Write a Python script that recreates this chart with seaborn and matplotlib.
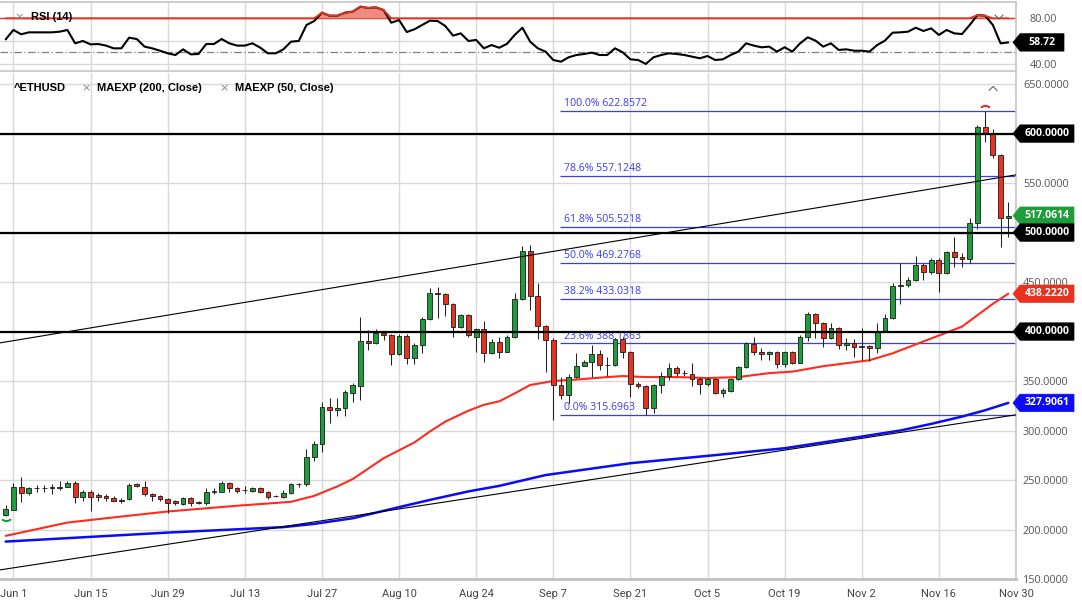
import numpy as np
import pandas as pd
import matplotlib
matplotlib.use("Agg")
import matplotlib.pyplot as plt
import seaborn as sns
from matplotlib import font_manager
from matplotlib.patches import Polygon
from matplotlib.lines import Line2D
from matplotlib.transforms import IdentityTransform

# ---- data (^ETHUSD daily, weekdays only) ----
dates = pd.bdate_range("2020-05-29", "2020-11-27")

opens = [214.8, 219.9, 242.8, 236.7, 241.5, 241.8, 243.4, 241.8, 243.4, 247.4,
         232.7, 238.0, 234.9, 233.9, 231.7, 230.0, 230.7, 246.2, 243.4, 236.0,
         234.0, 230.7, 228.3, 226.0, 231.7, 227.0, 227.2, 238.2, 238.2, 246.9,
         241.8, 240.1, 239.4, 241.5, 238.2, 233.9, 232.7, 236.7, 246.2, 246.2,
         273.6, 286.5, 324.2, 320.9, 322.5, 338.4, 345.4, 390.9, 388.2, 398.9,
         396.6, 377.4, 395.0, 373.1, 386.5, 412.5, 439.4, 438.0, 427.7, 404.4,
         416.8, 394.9, 402.4, 378.1, 389.4, 379.8, 394.3, 432.7, 481.7, 436.0,
         405.7, 391.6, 346.1, 336.0, 353.9, 365.6, 369.0, 377.1, 366.3, 366.3,
         392.3, 379.8, 347.2, 345.1, 322.5, 346.1, 355.4, 363.0, 358.5, 357.2,
         351.9, 347.2, 351.9, 338.4, 340.4, 351.9, 364.0, 387.5, 379.8, 377.1,
         379.8, 367.4, 379.8, 368.7, 394.9, 417.8, 409.0, 393.3, 403.4, 386.5,
         388.8, 384.8, 385.5, 383.1, 401.0, 413.5, 446.1, 447.1, 452.2, 467.4,
         460.6, 472.3, 459.0, 480.8, 475.1, 473.1, 509.4, 607.0, 600.4, 578.5,
         515.0]
highs = [224.9, 246.9, 253.5, 242.6, 245.1, 245.1, 246.2, 249.4, 248.8, 249.4,
         240.1, 240.2, 236.7, 235.7, 234.0, 232.0, 246.9, 247.4, 249.4, 236.7,
         235.0, 231.7, 230.0, 233.3, 232.7, 228.3, 241.8, 241.8, 249.1, 248.4,
         243.2, 243.7, 243.0, 242.7, 239.2, 235.3, 240.3, 247.0, 247.0, 281.2,
         289.8, 329.3, 332.7, 332.7, 341.1, 347.8, 415.1, 401.7, 402.4, 400.9,
         397.6, 397.6, 397.6, 388.0, 414.5, 443.8, 445.4, 439.1, 429.3, 417.8,
         417.8, 403.4, 411.1, 392.0, 394.9, 397.0, 439.4, 486.5, 487.5, 449.5,
         406.4, 393.0, 354.5, 357.3, 378.1, 371.6, 386.5, 381.1, 374.0, 393.0,
         394.9, 380.6, 349.3, 346.1, 347.1, 359.5, 368.1, 364.7, 361.2, 368.7,
         353.9, 354.5, 352.8, 342.9, 352.9, 364.7, 389.0, 394.9, 383.2, 380.6,
         380.6, 380.6, 380.6, 396.9, 420.2, 418.8, 409.8, 409.0, 404.4, 393.3,
         392.0, 403.4, 386.5, 408.4, 417.8, 448.8, 469.0, 454.9, 476.4, 468.9,
         474.3, 474.8, 481.8, 495.3, 479.0, 514.5, 608.2, 622.86, 604.5, 579.5,
         530.5]
lows = [213.4, 219.4, 228.2, 234.6, 238.2, 238.2, 236.0, 240.1, 242.5, 227.2,
        228.3, 219.2, 229.3, 228.3, 228.3, 227.2, 229.8, 242.8, 234.0, 228.3,
        229.0, 217.1, 225.0, 225.0, 224.0, 226.0, 225.0, 236.0, 237.5, 238.2,
        237.2, 236.7, 238.0, 237.2, 231.0, 232.6, 232.3, 236.0, 242.8, 244.2,
        269.4, 278.8, 307.5, 314.8, 314.8, 329.3, 331.0, 381.5, 387.5, 391.6,
        366.3, 376.5, 367.4, 367.4, 378.1, 411.8, 413.5, 415.8, 394.9, 403.4,
        394.9, 379.8, 369.7, 377.4, 373.1, 379.1, 393.6, 432.0, 421.8, 392.3,
        359.5, 311.1, 331.7, 327.6, 353.0, 364.7, 354.5, 361.2, 355.4, 365.3,
        373.1, 334.3, 342.9, 315.7, 318.1, 338.4, 351.3, 354.8, 354.8, 345.1,
        337.0, 344.6, 337.0, 333.6, 339.4, 350.6, 363.0, 376.4, 371.6, 371.3,
        363.0, 363.9, 367.2, 367.8, 390.9, 393.3, 384.2, 392.0, 382.2, 381.5,
        374.7, 371.3, 370.7, 378.1, 399.4, 412.5, 428.0, 444.5, 451.5, 452.2,
        458.4, 440.4, 458.0, 465.0, 465.4, 469.6, 503.4, 591.9, 575.1, 485.2,
        496.0]
closes = [220.9, 242.8, 236.7, 241.8, 241.8, 241.6, 241.8, 243.4, 247.4, 232.7,
          238.0, 232.7, 232.7, 231.7, 229.3, 229.0, 245.1, 244.1, 236.0, 234.0,
          230.7, 227.2, 226.6, 231.7, 226.6, 227.3, 238.2, 238.4, 246.9, 241.8,
          239.4, 240.2, 241.8, 238.2, 233.3, 234.0, 237.3, 246.2, 246.4, 273.6,
          286.5, 324.2, 320.9, 322.5, 339.4, 346.3, 390.9, 388.2, 398.9, 396.6,
          377.4, 395.0, 373.1, 386.5, 412.5, 439.4, 438.0, 427.7, 404.4, 416.8,
          396.6, 402.4, 378.1, 389.4, 379.8, 394.3, 432.7, 481.7, 436.0, 405.7,
          391.6, 346.1, 336.0, 353.9, 365.6, 369.0, 377.1, 366.3, 366.5, 392.3,
          379.8, 347.2, 345.1, 322.5, 346.1, 355.4, 363.0, 358.5, 358.6, 351.9,
          347.2, 351.9, 337.7, 341.1, 351.9, 364.0, 388.2, 379.8, 377.1, 379.8,
          367.4, 379.8, 368.7, 394.9, 417.8, 409.0, 393.3, 403.4, 386.5, 388.8,
          384.2, 384.9, 383.1, 401.0, 413.5, 446.1, 447.1, 452.2, 467.4, 460.6,
          472.3, 459.0, 480.8, 475.1, 473.1, 509.4, 607.0, 600.4, 578.5, 514.5,
          517.0614]

rsi = [61.4, 69.7, 65.9, 67.6, 67.6, 67.6, 67.6, 68.2, 69.7, 57.9,
       60.0, 57.0, 57.3, 55.9, 53.5, 53.5, 62.9, 61.7, 55.0, 53.5,
       51.4, 49.1, 47.6, 52.6, 48.2, 48.5, 57.3, 57.3, 61.7, 57.9,
       55.9, 55.9, 57.9, 54.1, 49.1, 49.1, 52.6, 59.4, 60.0, 74.1,
       77.6, 85.0, 82.3, 82.3, 85.0, 85.9, 90.3, 89.1, 89.7, 87.3,
       76.1, 78.5, 67.9, 70.3, 74.1, 77.9, 77.6, 73.2, 64.7, 66.7,
       60.0, 60.9, 53.5, 56.4, 54.0, 57.5, 65.3, 71.7, 59.4, 53.5,
       50.6, 43.2, 41.7, 45.6, 47.6, 48.5, 49.7, 47.6, 47.6, 53.5,
       50.0, 43.8, 43.2, 39.7, 45.6, 47.6, 49.1, 48.5, 47.6, 46.1,
       44.7, 46.7, 43.2, 43.8, 47.6, 50.6, 57.9, 55.9, 54.4, 55.0,
       50.6, 54.4, 50.6, 57.9, 63.2, 60.3, 55.0, 57.9, 52.1, 52.6,
       51.4, 51.4, 50.6, 56.4, 60.3, 67.3, 67.6, 68.2, 71.7, 68.8,
       71.1, 65.3, 69.7, 66.7, 66.1, 74.1, 82.9, 82.3, 74.1, 57.9,
       58.72]

# moving averages, sampled along the drawn curves (trading-day index, value)
ema50_idx = [0, 8, 15, 21, 30, 37, 40, 43, 45, 49, 53, 55, 57, 60, 62, 64, 66, 68,
             71, 74, 78, 80, 83, 87, 91, 95, 99, 102, 106, 112, 115, 119, 124, 128, 130]
ema50_val = [193.6, 207.0, 213.1, 218.2, 224.0, 228.0, 234.0, 243.5, 251.0, 272.0,
             288.0, 299.0, 309.0, 320.0, 326.0, 329.5, 337.5, 346.0, 350.0, 351.5,
             354.0, 355.0, 354.0, 354.0, 353.0, 354.0, 358.0, 359.5, 365.0, 371.0,
             378.0, 390.0, 405.0, 428.0, 438.2220]
ema200_idx = [0, 21, 36, 40, 45, 51, 55, 60, 64, 70, 81, 91, 101, 111, 116, 120,
              124, 127, 130]
ema200_val = [187.8, 196.9, 202.4, 205.7, 211.4, 222.6, 229.9, 238.5, 244.1, 255.0,
              267.0, 274.4, 282.1, 293.9, 300.0, 306.7, 314.1, 320.5, 327.9061]

# Fibonacci retracement levels
fib_pct = [0.0, 23.6, 38.2, 50.0, 61.8, 78.6, 100.0]
fib_val = [315.6963, 388.1863, 433.0318, 469.2768, 505.5218, 557.1248, 622.8572]
fib_start = "2020-09-08"

# trend lines (date, price) anchors
upper_trend = [("2020-05-29", 389.5), ("2020-11-27", 557.0)]
lower_trend = [("2020-05-29", 160.1), ("2020-11-27", 314.7)]

levels = [600, 500, 400]

tick_dates = ["2020-06-01", "2020-06-15", "2020-06-29", "2020-07-13", "2020-07-27",
              "2020-08-10", "2020-08-24", "2020-09-07", "2020-09-21", "2020-10-05",
              "2020-10-19", "2020-11-02", "2020-11-16", "2020-11-30"]
tick_labels = ["Jun 1", "Jun 15", "Jun 29", "Jul 13", "Jul 27", "Aug 10", "Aug 24",
               "Sep 7", "Sep 21", "Oct 5", "Oct 19", "Nov 2", "Nov 16", "Nov 30"]

# ---- style ----
sns.set_theme(style="white")
installed = {f.name for f in font_manager.fontManager.ttflist}
plt.rcParams["font.family"] = ["Open Sans", "DejaVu Sans"]
narrow = "Liberation Sans Narrow" if "Liberation Sans Narrow" in installed else "Roboto"

GREEN = "#1f9d3a"
RED = "#e8321f"
BLUE = "#0b0bf5"
FIB = "#3a3aff"
GRID = "#d9d9d9"

W, H = 1082, 602
fig = plt.figure(figsize=(W / 100, H / 100), dpi=100)


def px_rect(x0, y0, x1, y1):
    return [x0 / W, 1 - y1 / H, (x1 - x0) / W, (y1 - y0) / H]


ax_rsi = fig.add_axes(px_rect(0, 2, 1016, 70.7))
ax = fig.add_axes(px_rect(0, 73, 1016, 579))

all_days = pd.bdate_range("2020-05-29", "2020-11-30")
tick_pos = all_days.get_indexer(pd.to_datetime(tick_dates))
k = np.arange(len(dates))

o = np.array(opens)
c = np.array(closes)
up = c >= o

# ---- price panel ----
ax.set_xlim(-0.74, 131)
ax.set_ylim(150.1, 661.2)
ax.set_xticks(tick_pos)
ax.set_xticklabels(tick_labels)
ax.set_yticks(np.arange(150, 651, 50))
ax.set_yticklabels([f"{v:.4f}" for v in np.arange(150, 651, 50)])
ax.grid(True, color=GRID, lw=1.0)
ax.set_axisbelow(True)

fib_k = dates.get_loc(pd.Timestamp(fib_start)) - 0.1
ax.hlines(fib_val, fib_k, 131, color=FIB, lw=0.9, zorder=2)
for p, v in zip(fib_pct, fib_val):
    ax.annotate(f"{p:.1f}% {v:.4f}", (fib_k, v), xytext=(2.5, 1.2),
                textcoords="offset points", color=FIB, fontsize=7.6,
                va="bottom", ha="left", zorder=2)

sns.lineplot(x=ema200_idx, y=ema200_val, ax=ax, color=BLUE, lw=1.8, zorder=3, legend=False)
sns.lineplot(x=ema50_idx, y=ema50_val, ax=ax, color="#ff2b1c", lw=1.5, zorder=3, legend=False)

ax.vlines(k, lows, highs, color="#222222", lw=0.75, zorder=4)
ax.bar(k, c - o, bottom=o, width=0.62, color=np.where(up, GREEN, RED),
       edgecolor="#1a1a1a", linewidth=0.6, zorder=5)

for lv in levels:
    ax.axhline(lv, color="black", lw=1.6, zorder=6)

for tr in (upper_trend, lower_trend):
    (d0, p0), (d1, p1) = tr
    x0 = dates.get_loc(pd.Timestamp(d0))
    x1 = dates.get_loc(pd.Timestamp(d1))
    ax.axline((x0, p0), (x1, p1), color="black", lw=0.8, zorder=6)

# swing markers
ax.plot(0, lows[0] - 4, marker="$\\smile$", color=GREEN, ms=6, zorder=7)
ax.plot(127, highs[127] + 4.5, marker="$\\frown$", color=RED, ms=6, zorder=7)

ax.yaxis.tick_right()
ax.tick_params(axis="y", length=0, pad=5, labelsize=7.8, labelcolor="#555555")
ax.tick_params(axis="x", length=0, pad=7, labelsize=8, labelcolor="#444444")
for lab in ax.get_xticklabels():
    lab.set_family(narrow)
ax.set_xlabel("")
ax.set_ylabel("")
ax.spines["left"].set_visible(False)
ax.spines["top"].set_visible(False)
ax.spines["right"].set_color("#c8c8c8")
ax.spines["bottom"].set_color("#c4c4c4")
ax.spines["bottom"].set_linewidth(2.2)

# ---- RSI panel ----
ax_rsi.set_xlim(-0.74, 131)
ax_rsi.set_ylim(33.75, 94.39)
ax_rsi.set_xticks(tick_pos)
ax_rsi.set_xticklabels([])
ax_rsi.set_yticks([40, 60, 80])
ax_rsi.set_yticklabels(["40.00", "60.00", "80.00"])
ax_rsi.grid(True, color=GRID, lw=1.0)
ax_rsi.set_axisbelow(True)
ax_rsi.yaxis.tick_right()
ax_rsi.tick_params(axis="y", length=0, pad=10, labelsize=7.8, labelcolor="#555555")
ax_rsi.tick_params(axis="x", length=0)
r = np.array(rsi)
ax_rsi.axhline(50, color="#808080", lw=0.9, ls=(0, (6, 2, 1, 2)), zorder=2)
ax_rsi.axhline(80, color=RED, lw=1.0, zorder=2)
ax_rsi.fill_between(k, r, 80, where=r > 80, interpolate=True, color="#f08b80", lw=0, zorder=3)
sns.lineplot(x=k, y=r, ax=ax_rsi, color="black", lw=1.5, zorder=4, legend=False)
ax_rsi.plot(k, np.maximum(r, 80), color=RED, lw=1.3, zorder=5)
ax_rsi.set_xlabel("")
ax_rsi.set_ylabel("")
ax_rsi.spines["left"].set_visible(False)
for s in ("top", "right", "bottom"):
    ax_rsi.spines[s].set_color("#c8c8c8")


# ---- value badges on the right edge ----
def badge(axis, value, text, color, width=54, half=8.7):
    xe, yc = axis.transData.transform((axis.get_xlim()[1], value))
    verts = [(xe - 3, yc), (xe + 4, yc - half), (xe + width + 4, yc - half),
             (xe + width + 4, yc + half), (xe + 4, yc + half)]
    fig.add_artist(Polygon(verts, closed=True, transform=IdentityTransform(),
                           facecolor=color, edgecolor=color, lw=0.5, zorder=10))
    fig.text((xe + 4 + width / 2) / W, yc / H, text, ha="center", va="center",
             color="white", weight="bold", fontsize=7.6, zorder=11)


badge(ax, closes[-1], f"{closes[-1]:.4f}", GREEN)
for lv in levels:
    badge(ax, lv, f"{lv:.4f}", "black")
badge(ax, ema50_val[-1], f"{ema50_val[-1]:.4f}", RED)
badge(ax, ema200_val[-1], f"{ema200_val[-1]:.4f}", BLUE)
badge(ax_rsi, rsi[-1], f"{rsi[-1]:.2f}", "black", width=44)

# ---- panel titles ----
lbl = dict(va="center", ha="left", fontsize=8, weight="bold", color="black",
           family=["Liberation Sans", "DejaVu Sans"])
cross = dict(va="center", ha="left", fontsize=8, color="#888888",
             family=["DejaVu Sans"])
fig.text(14 / W, 1 - 17 / H, "\u00d7", **cross)
fig.text(31 / W, 1 - 17 / H, "RSI (14)", **lbl)
fig.text(14 / W, 1 - 88 / H, "^ETHUSD", **lbl)
fig.text(81 / W, 1 - 88 / H, "\u00d7", **cross)
fig.text(97 / W, 1 - 88 / H, "MAEXP (200, Close)", **lbl)
fig.text(219 / W, 1 - 88 / H, "\u00d7", **cross)
fig.text(235 / W, 1 - 88 / H, "MAEXP (50, Close)", **lbl)

# collapse chevrons
fig.add_artist(Line2D([989, 993, 997], [H - 90.5, H - 86.5, H - 90.5],
                      transform=IdentityTransform(), color="#666666", lw=0.8))
fig.add_artist(Line2D([995, 999, 1003], [H - 15, H - 19, H - 15],
                      transform=IdentityTransform(), color="#666666", lw=0.8))

fig.savefig("out.png", dpi=100, facecolor="white")
